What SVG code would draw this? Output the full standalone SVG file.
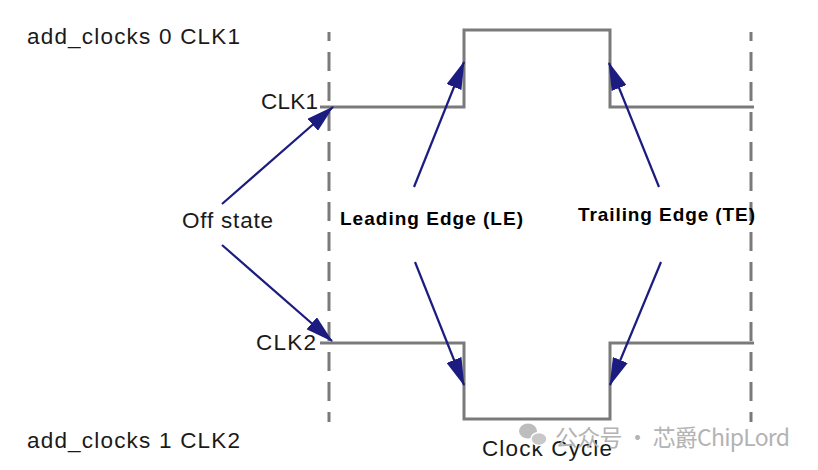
<svg xmlns="http://www.w3.org/2000/svg" width="818" height="470" viewBox="0 0 818 470">
<style>
.lbl{font-family:"Liberation Sans",Arial,sans-serif;font-size:22.5px;fill:#1a1a1a}
.bold{font-family:"Liberation Sans",Arial,sans-serif;font-size:19px;font-weight:bold;fill:#000}
.sig{fill:none;stroke:#7a7a7a;stroke-width:3}
.dash{fill:none;stroke:#7a7a7a;stroke-width:3;stroke-dasharray:19 11;stroke-dashoffset:10}
.arr{fill:none;stroke:#1c1c80;stroke-width:2.2;marker-end:url(#ah)}
.wm{font-family:"Noto Sans CJK SC","Liberation Sans",sans-serif;font-size:23px;fill:#b3b3b3}
</style>
<defs>
<marker id="ah" markerUnits="userSpaceOnUse" markerWidth="28" markerHeight="16" viewBox="0 0 28 16" refX="27" refY="8" orient="auto">
<path d="M0,0 L28,8 L0,16 z" fill="#1c1c80"/>
</marker>
</defs>
<rect width="818" height="470" fill="#fff"/>
<g id="gridlines">
<line class="dash" x1="329" y1="32" x2="329" y2="422"/>
<line class="dash" x1="751" y1="32" x2="751" y2="422"/>
</g>
<g id="clk1-wave"><path class="sig" d="M320,107 H464 V30 H610 V107 H754"/></g>
<g id="clk2-wave"><path class="sig" d="M320,343 H464 V419 H610 V343 H754"/></g>
<g id="labels">
<text class="lbl" x="27" y="44" textLength="213" lengthAdjust="spacing">add_clocks 0 CLK1</text>
<text class="lbl" x="261" y="109" textLength="57" lengthAdjust="spacing">CLK1</text>
<text class="lbl" x="256" y="350" textLength="60" lengthAdjust="spacing">CLK2</text>
<text class="lbl" x="27" y="448" textLength="213" lengthAdjust="spacing">add_clocks 1 CLK2</text>
<text class="lbl" x="182" y="228" textLength="91" lengthAdjust="spacing">Off state</text>
<text class="bold" x="340" y="225" textLength="183" lengthAdjust="spacing">Leading Edge (LE)</text>
<text class="bold" x="578" y="221" textLength="177" lengthAdjust="spacing">Trailing Edge (TE)</text>
<text class="lbl" x="482" y="456" textLength="130" lengthAdjust="spacing">Clock Cycle</text>
</g>
<g id="connectors">
<line class="arr" x1="222" y1="204" x2="333" y2="107"/>
<line class="arr" x1="222" y1="245" x2="332" y2="341"/>
<line class="arr" x1="414" y1="187" x2="464" y2="62"/>
<line class="arr" x1="415" y1="262" x2="464" y2="385"/>
<line class="arr" x1="659" y1="187" x2="609" y2="63"/>
<line class="arr" x1="661" y1="262" x2="610" y2="385"/>
</g>
<g id="watermark">
<ellipse cx="528" cy="431" rx="9" ry="7.5" fill="#bdbdbd"/>
<ellipse cx="539" cy="439" rx="8" ry="6.5" fill="#c8c8c8" stroke="#fff" stroke-width="1.5"/>
<text class="wm" x="555" y="446" textLength="235" lengthAdjust="spacing">公众号 · 芯爵ChipLord</text>
</g>
</svg>
